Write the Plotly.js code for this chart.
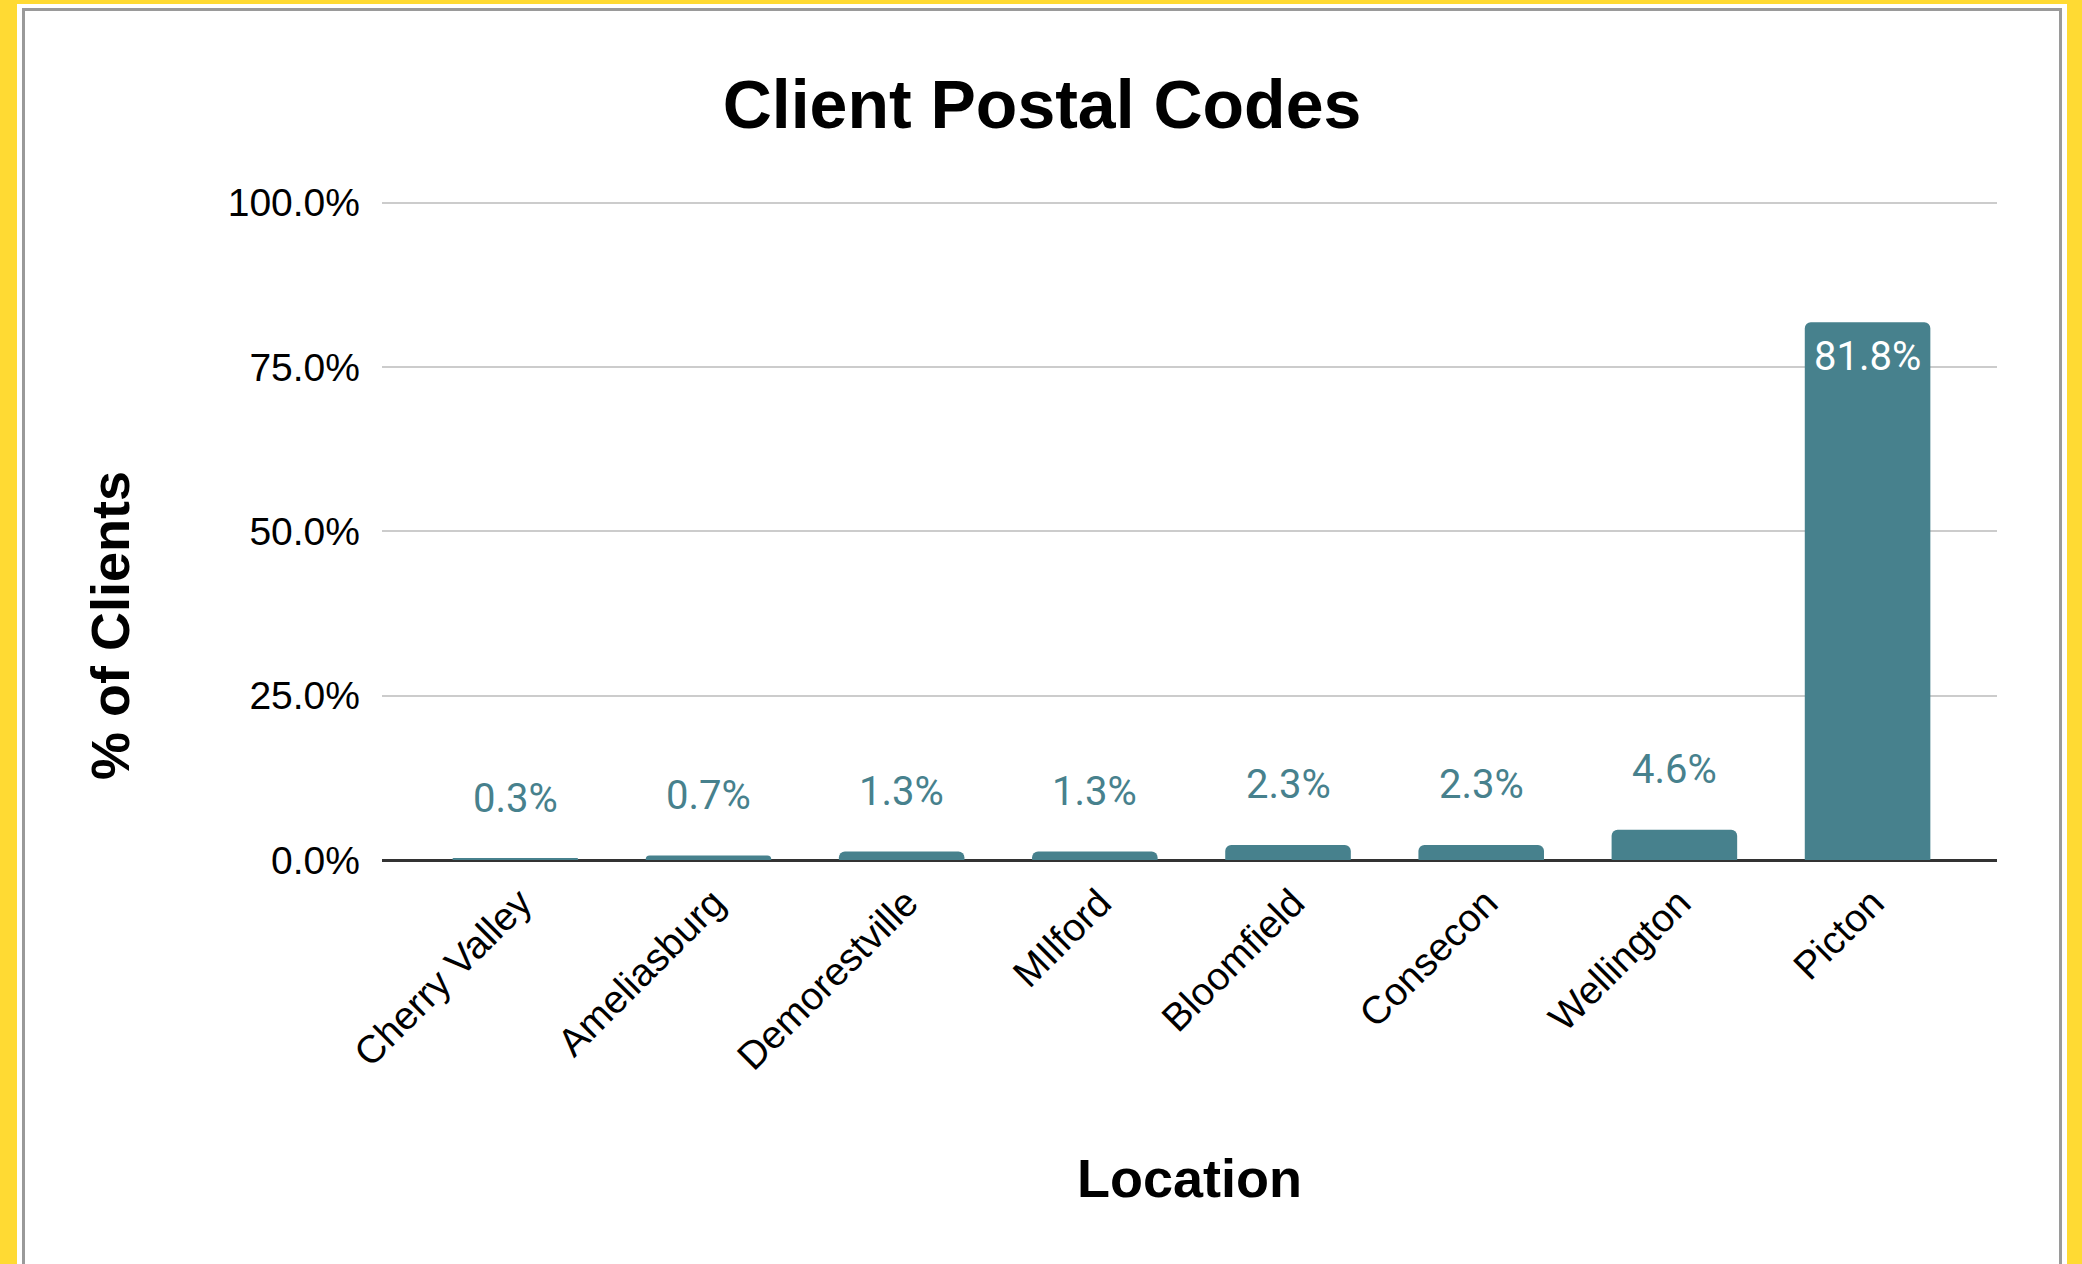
<!DOCTYPE html>
<html>
<head>
<meta charset="utf-8">
<script src="https://cdn.plot.ly/plotly-3.0.1.min.js"></script>
<style>
  html, body { margin: 0; padding: 0; width: 2082px; height: 1264px; overflow: hidden; background: #ffda33; }
  #sheet { position: absolute; left: 17px; top: 4px; width: 2050px; height: 1300px; background: #ffffff; }
  #frame { position: absolute; left: 22px; top: 8px; width: 2040px; height: 1300px; border: 3px solid #9a9a9a; box-sizing: border-box; background: #fff; }
  #plot { position: absolute; left: 0; top: 0; }
</style>
</head>
<body>
<div id="sheet"></div>
<div id="frame"><div id="plot"></div></div>
<script>
// locations, sorted smallest to largest
const locations = ['Cherry Valley', 'Ameliasburg', 'Demorestville', 'MIlford', 'Bloomfield', 'Consecon', 'Wellington', 'Picton'];
const shares = [0.003, 0.007, 0.013, 0.013, 0.023, 0.023, 0.046, 0.818];
const yTicks = [0, 0.25, 0.5, 0.75, 1.0];

const teal = '#47818d';

const trace = {
    x: locations,
    y: shares,
    type: 'bar',
    width: 0.65,
    marker: { color: teal, cornerradius: 6 },
    hoverinfo: 'x+y'
};

// data labels: above small bars, inside the big one
const labels = locations.map((loc, i) => {
    const inside = shares[i] > 0.3;
    return {
        x: loc,
        y: shares[i],
        xref: 'x',
        yref: 'y',
        text: (shares[i] * 100).toFixed(1) + '%',
        showarrow: false,
        yanchor: 'middle',
        yshift: inside ? -34 : 60,
        font: { family: 'Roboto, sans-serif', size: 40, color: inside ? '#ffffff' : teal }
    };
});

// y axis title sits a bit below the middle of the plot, so draw it as an annotation
labels.push({
    text: '<b>% of Clients</b>',
    xref: 'paper',
    yref: 'paper',
    x: 0,
    y: 0.3546,
    xanchor: 'center',
    yanchor: 'middle',
    xshift: -272,
    textangle: -90,
    showarrow: false,
    font: { size: 54, color: '#000000' }
});

const layout = {
    width: 2034,
    height: 1253,
    margin: { l: 357, r: 62, t: 189, b: 404 },
    paper_bgcolor: '#ffffff',
    plot_bgcolor: '#ffffff',
    font: { family: '"Liberation Sans", Arial, sans-serif', color: '#000000' },
    title: {
        text: '<b>Client Postal Codes</b>',
        x: 0.5,
        xref: 'container',
        xanchor: 'center',
        y: 0.926,
        yref: 'container',
        yanchor: 'middle',
        font: { size: 68, color: '#000000' }
    },
    xaxis: {
        title: { text: '<b>Location</b>', font: { size: 54 }, standoff: 82 },
        range: [-0.69, 7.67],
        tickangle: -45,
        tickfont: { size: 39 },
        ticklabelstandoff: 11,
        ticklabelshift: 5,
        showgrid: false,
        ticks: '',
        showline: false
    },
    yaxis: {
        range: [0, 1.004],
        tickvals: yTicks,
        tickformat: '.1%',
        tickfont: { size: 39 },
        gridcolor: '#cccccc',
        gridwidth: 2,
        zeroline: true,
        zerolinecolor: '#333333',
        zerolinewidth: 3,
        ticks: '',
        ticklabelstandoff: 21
    },
    annotations: labels,
    showlegend: false,
    bargap: 0.35
};

Plotly.newPlot('plot', [trace], layout, { displayModeBar: false, staticPlot: true });
</script>
</body>
</html>
